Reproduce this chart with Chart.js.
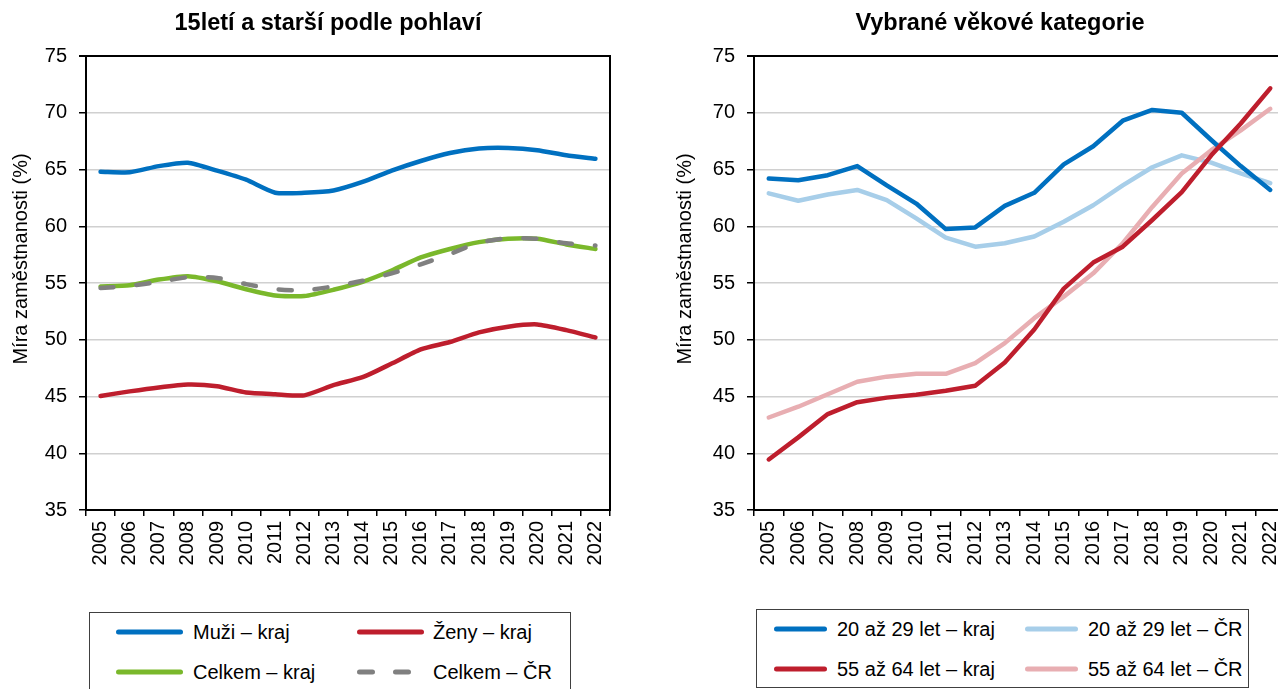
<!DOCTYPE html>
<html lang="cs">
<head>
<meta charset="utf-8">
<title>Míra zaměstnanosti</title>
<script src="https://cdn.jsdelivr.net/npm/chart.js@4.4.1/dist/chart.umd.min.js"></script>
<style>
  html, body { margin: 0; padding: 0; background: #fff; }
  body { width: 1278px; height: 689px; overflow: hidden; position: relative;
         font-family: "Liberation Sans", Arial, sans-serif; }
  canvas { position: absolute; top: 0; }
  #leftChart { left: 0; }
  #rightChart { left: 640px; }
  .legend { position: absolute; border: 1px solid #404040; box-sizing: border-box; background: #fff; }
  .legend svg { position: absolute; overflow: visible; }
  .legend span { position: absolute; font-size: 20px; line-height: 24px; color: #000;
                 white-space: nowrap; transform: translateY(-50%); }
</style>
</head>
<body>
<canvas id="leftChart" width="656" height="600"></canvas>
<canvas id="rightChart" width="720" height="600"></canvas>
<div class="legend" id="leftLegend" style="left:89px; top:612px; width:482px; height:90px;"></div>
<div class="legend" id="rightLegend" style="left:756px; top:609px; width:493px; height:79px;"></div>

<script>
// roky
const years = ['2005', '2006', '2007', '2008', '2009', '2010', '2011', '2012', '2013',
               '2014', '2015', '2016', '2017', '2018', '2019', '2020', '2021', '2022'];

// 15letí a starší podle pohlaví
const muziKraj   = [64.8, 64.75, 65.3, 65.6, 64.9, 64.1, 62.95, 62.95, 63.15, 63.9, 64.9, 65.75, 66.45, 66.85, 66.9, 66.7, 66.25, 65.95];
const zenyKraj   = [45.05, 45.45, 45.8, 46.05, 45.9, 45.35, 45.2, 45.1, 46.0, 46.7, 47.9, 49.15, 49.8, 50.65, 51.15, 51.35, 50.85, 50.2];
const celkemKraj = [54.7, 54.8, 55.3, 55.6, 55.15, 54.45, 53.9, 53.85, 54.4, 55.1, 56.1, 57.25, 58.0, 58.6, 58.9, 58.9, 58.4, 58.0];
const celkemCR   = [54.55, 54.75, 55.1, 55.5, 55.45, 54.9, 54.45, 54.35, 54.7, 55.2, 55.85, 56.65, 57.55, 58.55, 58.95, 58.9, 58.5, 58.3];

// vybrané věkové kategorie
const mladiKraj  = [64.2, 64.05, 64.5, 65.3, 63.6, 62.0, 59.75, 59.9, 61.8, 62.95, 65.45, 67.05, 69.3, 70.25, 70.0, 67.6, 65.3, 63.2];
const mladiCR    = [62.9, 62.25, 62.8, 63.2, 62.3, 60.7, 59.0, 58.2, 58.5, 59.1, 60.4, 61.85, 63.6, 65.2, 66.25, 65.6, 64.65, 63.8];
const starsiKraj = [39.45, 41.4, 43.45, 44.5, 44.9, 45.15, 45.5, 45.95, 48.0, 50.9, 54.5, 56.8, 58.2, 60.55, 63.0, 66.25, 69.05, 72.15];
const starsiCR   = [43.15, 44.1, 45.2, 46.3, 46.75, 47.0, 47.0, 47.95, 49.7, 51.9, 53.8, 55.85, 58.5, 61.7, 64.65, 66.7, 68.45, 70.35];

const yTicks = { min: 35, max: 75, step: 5 };
const yTitle = 'Míra zaměstnanosti (%)';

const FONT = '"Liberation Sans", Arial, sans-serif';
Chart.defaults.font.family = FONT;
Chart.defaults.color = '#000';

// y-axis title drawn a bit above centre, like the original
const yTitlePlugin = {
  id: 'yTitle',
  afterDraw(chart, args, opts) {
    const ctx = chart.ctx;
    ctx.save();
    ctx.translate(opts.x, opts.y);
    ctx.rotate(-Math.PI / 2);
    ctx.font = '20px ' + FONT;
    ctx.fillStyle = '#000';
    ctx.textAlign = 'center';
    ctx.textBaseline = 'middle';
    ctx.fillText(opts.text, 0, 0);
    ctx.restore();
  }
};

function line(label, data, color, order, extra) {
  return Object.assign({
    label, data, order,
    borderColor: color,
    backgroundColor: color,
    borderWidth: 4.5,
    pointRadius: 0,
    borderCapStyle: 'round',
    borderJoinStyle: 'round',
    fill: false
  }, extra || {});
}

function makeChart(id, title, datasets, cfg) {
  return new Chart(document.getElementById(id), {
    type: 'line',
    data: { labels: years, datasets },
    plugins: [yTitlePlugin],
    options: {
      responsive: false,
      animation: false,
      devicePixelRatio: 1,
      layout: { padding: 0 },
      plugins: {
        legend: { display: false },
        tooltip: { enabled: false },
        title: {
          display: true,
          text: title,
          color: '#000',
          font: { size: 23.5, weight: 'bold' },
          padding: { top: 9, bottom: 18.8 }
        },
        yTitle: { text: yTitle, x: cfg.titleX, y: 259 }
      },
      scales: {
        x: {
          offset: true,
          grid: { offset: true, drawOnChartArea: false, tickLength: 6, tickColor: '#000', lineWidth: 1.5 },
          border: { color: '#000', width: 2 },
          ticks: { minRotation: 90, maxRotation: 90, autoSkip: false, padding: 5, font: { size: 20 } },
          afterFit: s => { s.height = 90; }
        },
        y: {
          min: yTicks.min,
          max: yTicks.max,
          ticks: { stepSize: yTicks.step, padding: 12, font: { size: 20 } },
          grid: {
            color: c => c.tick && c.tick.value === yTicks.max ? '#000' : '#d0d0d0',
            lineWidth: c => c.tick && c.tick.value === yTicks.max ? 2 : 1.5,
            tickLength: 7,
            tickColor: '#000'
          },
          border: { color: '#000', width: 2 },
          afterFit: s => { s.width = cfg.yWidth; }
        },
        y2: {
          position: 'right',
          display: true,
          ticks: { display: false },
          grid: { display: false },
          border: { display: true, color: '#000', width: 2 },
          afterFit: s => { s.width = cfg.rightWidth; }
        }
      }
    }
  });
}

const leftSets = [
  line('Muži – kraj', muziKraj, '#0070C0', 3, { tension: 0.2 }),
  line('Ženy – kraj', zenyKraj, '#BE1E2D', 2, { tension: 0.2 }),
  line('Celkem – kraj', celkemKraj, '#7AB82B', 1, { tension: 0.2 }),
  line('Celkem – ČR', celkemCR, '#808080', 0, { tension: 0.2, borderDash: [13, 23] })
];

const rightSets = [
  line('20 až 29 let – kraj', mladiKraj, '#0070C0', 1),
  line('20 až 29 let – ČR', mladiCR, '#A7CEE9', 3),
  line('55 až 64 let – kraj', starsiKraj, '#BE1E2D', 0),
  line('55 až 64 let – ČR', starsiCR, '#E8AEB2', 2)
];

makeChart('leftChart', '15letí a starší podle pohlaví', leftSets, { yWidth: 86, rightWidth: 46, titleX: 21 });
makeChart('rightChart', 'Vybrané věkové kategorie', rightSets, { yWidth: 114, rightWidth: 75, titleX: 45 });

// legenda v rámečku, dva sloupce
function buildLegend(boxId, sets, cols, rows, lineLen) {
  const box = document.getElementById(boxId);
  let html = '';
  sets.forEach((ds, i) => {
    const c = cols[i % 2], y = rows[Math.floor(i / 2)];
    const dash = ds.borderDash ? ` stroke-dasharray="${ds.borderDash.join(' ')}"` : '';
    html += `<svg style="left:${c.line}px; top:${y - 5}px" width="${lineLen}" height="10">` +
            `<line x1="2.5" y1="5" x2="${lineLen - 2.5}" y2="5" stroke="${ds.borderColor}" stroke-width="5" stroke-linecap="round"${dash}/></svg>`;
    html += `<span style="left:${c.text}px; top:${y}px">${ds.label}</span>`;
  });
  box.innerHTML = html;
}

buildLegend('leftLegend', leftSets, [{ line: 26, text: 103 }, { line: 267, text: 343 }], [19, 59], 67);
buildLegend('rightLegend', rightSets, [{ line: 17, text: 80 }, { line: 268, text: 331 }], [19, 59], 53);
</script>
</body>
</html>
